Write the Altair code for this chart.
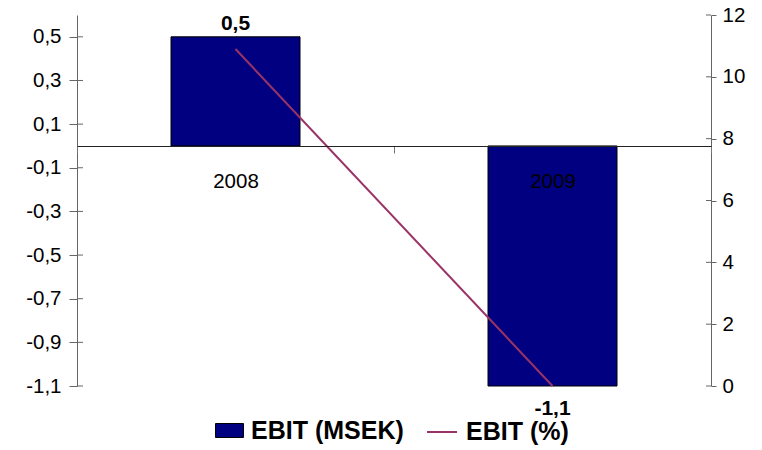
import altair as alt
import pandas as pd

years = ["2008", "2009"]
ebit_msek = [0.5, -1.1]
ebit_pct = [10.9, 0.0]
left_ticks = [-1.1, -0.9, -0.7, -0.5, -0.3, -0.1, 0.1, 0.3, 0.5]
right_ticks = [0, 2, 4, 6, 8, 10, 12]

df = pd.DataFrame({"year": years, "msek": ebit_msek, "pct": ebit_pct,
                   "s1": ["EBIT (MSEK)"] * 2, "s2": ["EBIT (%)"] * 2})
lt = pd.DataFrame({"t": left_ticks})
rt = pd.DataFrame({"t": right_ticks})

FONT = "Liberation Sans"
NAVY = "#000080"
PLUM = "#993366"
W, H = 634, 371
FS = 20.5
LFS = 25

lab_expr = "replace(replace(format(datum.value, '.1f'), '.', ','), '\u2212', '-')"
calc_expr = "replace(replace(format(datum.msek, '.1f'), '.', ','), '\u2212', '-')"
yl = alt.Scale(domain=[-1.1, 0.6], nice=False, zero=False)
yr = alt.Scale(domain=[0, 12], nice=False)
xs = alt.Scale(paddingInner=0, paddingOuter=0)

base = alt.Chart(df)

bars = base.mark_bar(size=129, stroke="black", strokeWidth=1).encode(
    x=alt.X("year:N", scale=xs, title=None,
            axis=alt.Axis(orient="bottom", offset=-240, domainColor="#222222",
                          domainWidth=1.2, tickBand="extent", tickColor="#777777",
                          tickSize=7, labelAngle=0, labelFont=FONT, labelFontSize=FS,
                          labelColor="black", labelPadding=18, zindex=1)),
    y=alt.Y("msek:Q", scale=yl, title=None,
            axis=alt.Axis(orient="left", values=left_ticks, labelExpr=lab_expr,
                          grid=False, domainColor="#666666", tickColor="#666666",
                          tickSize=8, labelPadding=8, labelFont=FONT,
                          labelFontSize=FS, labelColor="black")),
    fill=alt.Color("s1:N", scale=alt.Scale(range=[NAVY]),
                   legend=alt.Legend(title=None, orient="none", legendX=138, legendY=401,
                                     symbolType="M-1,-0.5H1V0.5H-1Z", symbolSize=784,
                                     symbolStrokeColor="black", symbolStrokeWidth=1,
                                     labelFont=FONT, labelFontSize=LFS, labelFontWeight="bold",
                                     labelColor="black", labelOffset=7)),
)

lab_pos = base.transform_filter("datum.msek >= 0").transform_calculate(
    lab=calc_expr
).mark_text(font=FONT, fontSize=21, fontWeight="bold", baseline="alphabetic", dy=-7,
            color="black").encode(x="year:N", y=alt.Y("msek:Q", scale=yl), text="lab:N")

lab_neg = base.transform_filter("datum.msek < 0").transform_calculate(
    lab=calc_expr
).mark_text(font=FONT, fontSize=21, fontWeight="bold", baseline="alphabetic", dy=29,
            color="black").encode(x="year:N", y=alt.Y("msek:Q", scale=yl), text="lab:N")

ltick_in = alt.Chart(lt).mark_rule(color="#666666").encode(
    y=alt.Y("t:Q", scale=yl), x=alt.value(0), x2=alt.value(6))

left_layer = alt.layer(bars, lab_pos, lab_neg, ltick_in)

line = base.mark_line(color=PLUM, strokeWidth=2).encode(
    x="year:N",
    y=alt.Y("pct:Q", scale=yr, title=None,
            axis=alt.Axis(orient="right", values=right_ticks, grid=False,
                          domainColor="#666666", tickColor="#666666", tickSize=5,
                          labelPadding=6, labelFont=FONT, labelFontSize=FS,
                          labelColor="black")),
    stroke=alt.Stroke("s2:N", scale=alt.Scale(range=[PLUM]),
                      legend=alt.Legend(title=None, orient="none", legendX=349, legendY=401,
                                        symbolType="stroke", symbolSize=900,
                                        symbolStrokeWidth=2, labelFont=FONT,
                                        labelFontSize=LFS, labelFontWeight="bold",
                                        labelColor="black", labelOffset=8)),
)

rtick_in = alt.Chart(rt).mark_rule(color="#666666").encode(
    y=alt.Y("t:Q", scale=yr), x=alt.value(W - 5), x2=alt.value(W))

right_layer = alt.layer(line, rtick_in)

chart = alt.layer(left_layer, right_layer).resolve_scale(
    y="independent", fill="independent", stroke="independent"
).properties(
    width=W, height=H,
    autosize=alt.AutoSizeParams(type="none"),
    padding={"left": 69, "top": 7, "right": 43, "bottom": 64},
    background="white",
).configure_view(stroke=None)

chart.save("out.html", embed_options={"renderer": "svg", "actions": False})
